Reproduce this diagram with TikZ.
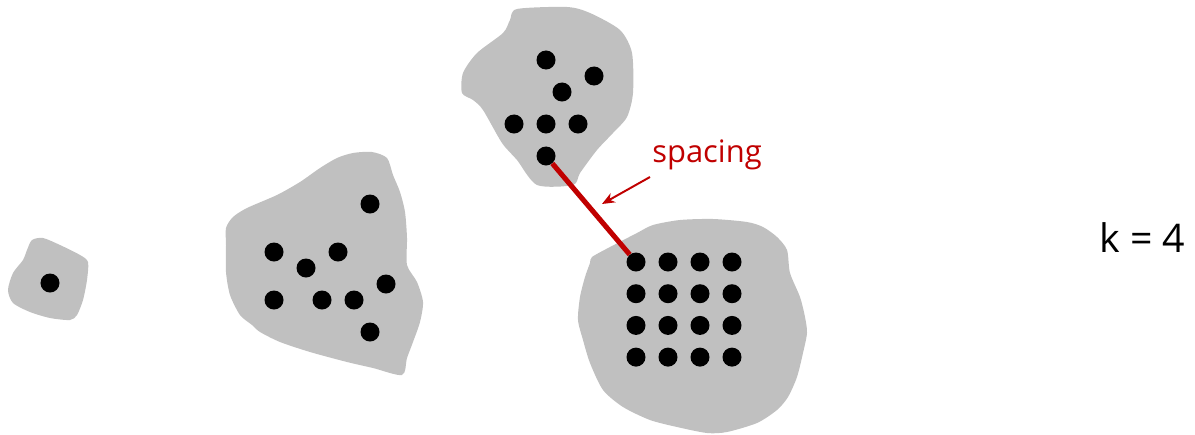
\documentclass[tikz,border=0pt]{standalone}
\usepackage{fontspec}
\setmainfont{Open Sans}
\usepackage{xcolor}
\usepackage{tikz}
\usetikzlibrary{arrows.meta, calc}

\definecolor{clgray}{HTML}{C0C0C0}
\definecolor{spred}{HTML}{C00000}

\begin{document}
\begin{tikzpicture}[x=0.025cm, y=-0.025cm,
    blob/.style={fill=clgray},
    pt/.style={circle, fill=black, inner sep=0pt, minimum size=0.475cm}]
  \useasboundingbox (0,0) rectangle (1195,434);

  % clusters
  \fill[blob] plot[smooth cycle, tension=0.45] coordinates {
    (32,240) (43,238) (60,245) (80,255) (88,262) (87,280) (83,300) (77,315)
    (70,320) (50,318) (30,312) (13,303) (8,290) (13,273) (23,260) (27,250)};
  \fill[blob] plot[smooth cycle, tension=0.45] coordinates {
    (226,228) (233,217) (247,208) (277,195) (300,182) (320,168) (337,158)
    (353,153) (372,152) (387,158) (393,175) (400,192) (405,212) (407,238)
    (407,265) (417,282) (423,302) (420,322) (413,342) (407,358) (402,375)
    (373,368) (347,362) (310,352) (280,342) (260,332) (252,325) (240,315)
    (230,295) (226,272) (226,245)};
  \fill[blob] plot[smooth cycle, tension=0.45] coordinates {
    (517,9) (567,7) (590,13) (620,30) (632,53) (633,93) (627,117) (613,133)
    (597,150) (580,173) (573,185) (537,185) (517,160) (502,143) (483,110)
    (473,100) (462,93) (463,73) (477,53) (503,33) (510,20)};
  \fill[blob] plot[smooth cycle, tension=0.45] coordinates {
    (592,257) (610,247) (637,233) (653,225) (680,220) (713,219) (747,222)
    (763,227) (777,237) (787,250) (790,273) (800,297) (805,317) (807,333)
    (803,353) (797,377) (788,397) (777,410) (757,423) (727,432) (707,433)
    (677,427) (650,420) (623,407) (603,390) (590,363) (583,340) (578,320)
    (580,297) (585,277) (590,263)};

  % points
  \node[pt] (s1) at (50,283) {};

  \node[pt] (m1) at (370,204) {};
  \node[pt] (m2) at (274,252) {};
  \node[pt] (m3) at (338,252) {};
  \node[pt] (m4) at (306,268) {};
  \node[pt] (m5) at (386,284) {};
  \node[pt] (m6) at (274,300) {};
  \node[pt] (m7) at (322,300) {};
  \node[pt] (m8) at (354,300) {};
  \node[pt] (m9) at (370,332) {};

  \node[pt] (t1) at (546,60) {};
  \node[pt] (t2) at (594,76) {};
  \node[pt] (t3) at (562,92) {};
  \node[pt] (t4) at (514,124) {};
  \node[pt] (t5) at (546,124) {};
  \node[pt] (t6) at (578,124) {};
  \node[pt] (t7) at (546,156) {};

  \foreach \r in {1,...,4}
    \foreach \c in {1,...,4}
      \node[pt] (g\r\c) at ({636+32*(\c-1)}, {262+31.7*(\r-1)}) {};

  % spacing between the two closest clusters
  \draw[spred, line width=3.6pt] (t7) -- (g11);
  \node[spred, font=\fontsize{22}{26}\selectfont, anchor=base west, inner sep=0pt]
       (lbl) at (652,162) {spacing};
  \coordinate (atail) at (650,177);
  \coordinate (atip) at (602,204);
  \draw[spred, line width=1.4pt, -{Stealth[length=3.2mm, width=2.6mm]}] (atail) -- (atip);

  \node[font=\fontsize{28}{32}\selectfont, anchor=base west, inner sep=0pt]
       (k) at (1099,252) {k = 4};
\end{tikzpicture}
\end{document}
